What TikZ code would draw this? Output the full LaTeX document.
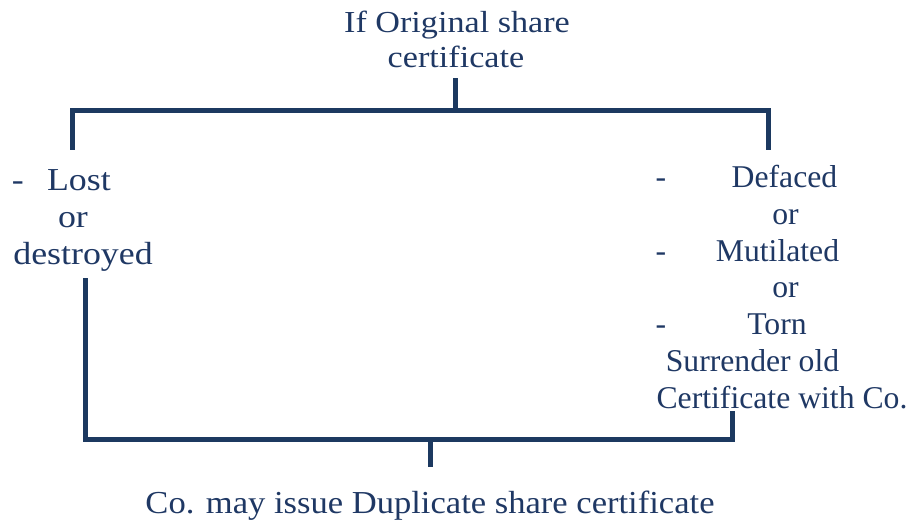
\documentclass[tikz,border=0pt]{standalone}
\usepackage{fontspec}
\setmainfont{Liberation Serif}
\newfontfamily\cambriaish[FakeStretch=1.12]{Liberation Serif}
\newfontfamily\cambriaishb[FakeStretch=1.08]{Liberation Serif}
\definecolor{navy}{RGB}{31,56,100}
\definecolor{linenavy}{RGB}{28,57,96}
\tikzset{
  txt/.style={anchor=base, inner sep=0pt, outer sep=0pt, text=navy},
  toptxt/.style={txt, font=\cambriaish\fontsize{30.5}{36}\selectfont},
  lefttxt/.style={txt, font=\cambriaish\fontsize{32}{37}\selectfont},
  bottxt/.style={txt, font=\cambriaishb\fontsize{32}{37}\selectfont},
  righttxt/.style={txt, font=\fontsize{31.7}{37}\selectfont},
  bracket/.style={draw=linenavy, line width=5pt, line cap=rect, line join=miter}
}
\begin{document}
\begin{tikzpicture}[x=1pt,y=-1pt]
\useasboundingbox (0,0) rectangle (911,520);
% title
\node[toptxt] (t1) at (457,32) {If Original share};
\node[toptxt] (t2) at (456,67) {certificate};
% left block
\node[lefttxt, anchor=base west] (ld) at (12,190) {-};
\node[lefttxt, anchor=base west] (l1) at (47,190) {Lost};
\node[lefttxt] (l2) at (73,227) {or};
\node[lefttxt] (l3) at (83,264) {destroyed};
% right block
\node[righttxt] (rd1) at (661,187) {-};
\node[righttxt] (r1) at (784.5,187) {Defaced};
\node[righttxt] (r2) at (785.5,224) {or};
\node[righttxt] (rd2) at (661,261) {-};
\node[righttxt] (r3) at (777.5,261) {Mutilated};
\node[righttxt] (r4) at (785.5,297) {or};
\node[righttxt] (rd3) at (661,334) {-};
\node[righttxt] (r5) at (777,334) {Torn};
\node[righttxt] (r6) at (752.5,371) {Surrender old};
\node[righttxt] (r7) at (782,408) {Certificate with Co.};
% bottom
\node[bottxt] (b1) at (430,513) {Co. may issue Duplicate share certificate};
% connector points
\coordinate (ts) at (455,78);
\coordinate (tj) at (455,110);
\coordinate (tl) at (72,147);
\coordinate (tr) at (768,147);
\coordinate (ls) at (85,280);
\coordinate (rs) at (732,413);
\coordinate (bj) at (430,439);
\coordinate (be) at (430,467);
% top bracket
\draw[bracket] (tl) |- (tj) -| (tr);
\draw[bracket, line cap=butt] (ts) -- (tj);
% bottom bracket
\draw[bracket] (ls) |- (bj) -| (rs);
\draw[bracket, line cap=butt] (bj) -- (be);
\end{tikzpicture}
\end{document}
